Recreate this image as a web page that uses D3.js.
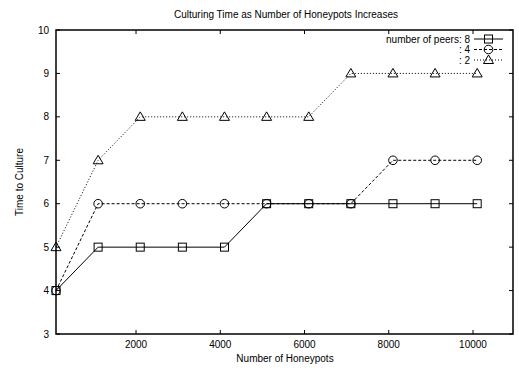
<!DOCTYPE html>
<html>
<head>
<meta charset="utf-8">
<script src="https://cdn.jsdelivr.net/npm/d3@7"></script>
<style>
body { margin: 0; background: #fff; }
text { font-family: "Liberation Sans", Arial, sans-serif; font-size: 10px; fill: #000; }
</style>
</head>
<body>
<svg width="519" height="370"></svg>
<script>
var honeypots = [100, 1100, 2100, 3100, 4100, 5100, 6100, 7100, 8100, 9100, 10100];
var peers8 = [4, 5, 5, 5, 5, 6, 6, 6, 6, 6, 6];
var peers4 = [4, 6, 6, 6, 6, 6, 6, 6, 7, 7, 7];
var peers2 = [5, 7, 8, 8, 8, 8, 8, 9, 9, 9, 9];
var xTicks = [2000, 4000, 6000, 8000, 10000];
var yTicks = [3, 4, 5, 6, 7, 8, 9, 10];
var seriesNames = ["number of peers: 8", ": 4", ": 2"];

var svg = d3.select("svg");
var plotLeft = 56, plotRight = 513, plotTop = 30, plotBottom = 334;

var x = d3.scaleLinear().domain([100, 10950]).range([plotLeft, plotRight]);
var y = d3.scaleLinear().domain([3, 10]).range([plotBottom, plotTop]);

svg.append("text")
    .attr("x", 286)
    .attr("y", 18)
    .attr("text-anchor", "middle")
    .text("Culturing Time as Number of Honeypots Increases");

// ticks, inward on all sides
var tickLen = 4;
var g = svg.append("g").attr("stroke", "#000").attr("stroke-width", 1);
yTicks.forEach(function(t) {
    g.append("line").attr("x1", plotLeft).attr("x2", plotLeft + tickLen).attr("y1", y(t)).attr("y2", y(t));
    g.append("line").attr("x1", plotRight).attr("x2", plotRight - tickLen).attr("y1", y(t)).attr("y2", y(t));
});
xTicks.forEach(function(t) {
    g.append("line").attr("x1", x(t)).attr("x2", x(t)).attr("y1", plotBottom).attr("y2", plotBottom - tickLen);
    g.append("line").attr("x1", x(t)).attr("x2", x(t)).attr("y1", plotTop).attr("y2", plotTop + tickLen);
});

svg.selectAll(".ylab")
    .data(yTicks)
    .enter().append("text")
    .attr("class", "ylab")
    .attr("x", plotLeft - 7)
    .attr("y", function(d) { return y(d) + 3.5; })
    .attr("text-anchor", "end")
    .text(function(d) { return d; });

svg.selectAll(".xlab")
    .data(xTicks)
    .enter().append("text")
    .attr("class", "xlab")
    .attr("x", function(d) { return x(d); })
    .attr("y", plotBottom + 14)
    .attr("text-anchor", "middle")
    .text(function(d) { return d; });

svg.append("text")
    .attr("x", 285)
    .attr("y", 362)
    .attr("text-anchor", "middle")
    .text("Number of Honeypots");

svg.append("text")
    .attr("transform", "translate(23," + ((plotTop + plotBottom) / 2) + ") rotate(-90)")
    .attr("text-anchor", "middle")
    .text("Time to Culture");

var series = [
    { name: seriesNames[0], values: peers8, dash: null, shape: "square" },
    { name: seriesNames[1], values: peers4, dash: "3,2", shape: "circle" },
    { name: seriesNames[2], values: peers2, dash: "1,2", shape: "triangle" }
];

function drawMarker(sel, shape, cx, cy) {
    if (shape === "square") {
        sel.append("rect").attr("x", cx - 4).attr("y", cy - 4).attr("width", 8).attr("height", 8)
            .attr("fill", "none").attr("stroke", "#000").attr("stroke-width", 1);
    } else if (shape === "circle") {
        sel.append("circle").attr("cx", cx).attr("cy", cy).attr("r", 4.3)
            .attr("fill", "none").attr("stroke", "#000").attr("stroke-width", 1);
    } else {
        sel.append("path").attr("d", "M" + cx + "," + (cy - 5) + "L" + (cx + 5) + "," + (cy + 3.5) + "L" + (cx - 5) + "," + (cy + 3.5) + "Z")
            .attr("fill", "none").attr("stroke", "#000").attr("stroke-width", 1);
    }
}

var line = d3.line()
    .x(function(d, i) { return x(honeypots[i]); })
    .y(function(d) { return y(d); });

series.forEach(function(s, k) {
    svg.append("path")
        .attr("d", line(s.values))
        .attr("fill", "none")
        .attr("stroke", "#000")
        .attr("stroke-width", 1)
        .attr("stroke-dasharray", s.dash);
    var mg = svg.append("g");
    s.values.forEach(function(v, i) {
        drawMarker(mg, s.shape, x(honeypots[i]), y(v));
    });

    // legend
    var ly = 39 + k * 10.5;
    svg.append("text")
        .attr("x", 470)
        .attr("y", ly + 3.5)
        .attr("text-anchor", "end")
        .text(s.name);
    svg.append("line")
        .attr("x1", 474).attr("x2", 503)
        .attr("y1", ly).attr("y2", ly)
        .attr("stroke", "#000").attr("stroke-width", 1)
        .attr("stroke-dasharray", s.dash);
    drawMarker(svg, s.shape, 488.5, ly);
});

// border
svg.append("rect")
    .attr("x", plotLeft).attr("y", plotTop)
    .attr("width", plotRight - plotLeft).attr("height", plotBottom - plotTop)
    .attr("fill", "none").attr("stroke", "#000").attr("stroke-width", 1.5);
</script>
</body>
</html>
